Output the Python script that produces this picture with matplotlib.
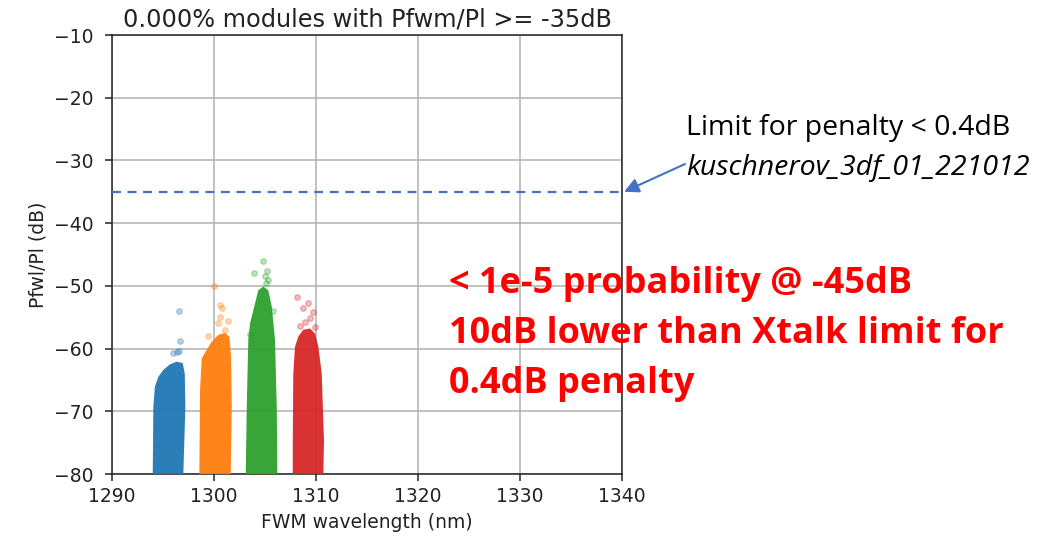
import numpy as np
import matplotlib
matplotlib.use("Agg")
import matplotlib.pyplot as plt

# FWM crosstalk per module, four pump-pair channels.
# Dense clouds are stored as their outlines (wavelength nm, Pfwm/Pl dB),
# sparse high-crosstalk samples as individual points.
blue_x = [1293.99, 1294.05, 1294.2, 1294.54, 1295.03, 1295.69, 1296.34, 1296.93, 1297.13, 1297.19, 1296.99]
blue_y = [-80.0, -69.3, -66.1, -64.5, -63.4, -62.5, -62.1, -62.3, -64.0, -69.3, -80.0]
blue_px = [1296.54, 1296.7, 1296.0, 1296.4, 1296.6]
blue_py = [-54.0, -58.8, -60.7, -60.5, -60.4]

orange_x = [1298.56, 1298.63, 1298.79, 1299.28, 1299.77, 1300.42, 1301.08, 1301.5, 1301.67, 1301.74, 1301.64]
orange_y = [-80.0, -66.6, -61.6, -60.2, -58.9, -57.8, -57.5, -58.1, -61.3, -69.3, -80.0]
orange_px = [1300.0, 1300.59, 1300.81, 1300.59, 1301.4, 1300.42, 1299.44, 1301.08]
orange_py = [-50.1, -53.0, -53.5, -54.9, -55.6, -56.0, -58.0, -57.0]

green_x = [1303.11, 1303.21, 1303.36, 1303.53, 1304.02, 1304.34, 1304.83, 1305.32, 1305.66, 1305.98, 1306.15, 1306.21]
green_y = [-80.0, -69.3, -58.6, -56.0, -52.8, -50.7, -50.1, -50.7, -53.3, -58.6, -69.3, -80.0]
green_px = [1304.77, 1303.95, 1305.17, 1305.0, 1305.26, 1305.1, 1305.8, 1303.53]
green_py = [-46.0, -47.9, -47.7, -48.5, -49.0, -49.5, -54.0, -57.7]

red_x = [1307.72, 1307.72, 1307.77, 1307.94, 1308.26, 1308.75, 1309.41, 1309.9, 1310.23, 1310.56, 1310.78, 1310.72]
red_y = [-80.0, -74.6, -64.0, -59.7, -58.1, -57.0, -56.8, -57.6, -59.7, -64.0, -74.6, -80.0]
red_px = [1308.1, 1309.25, 1308.75, 1309.67, 1309.41, 1308.92, 1309.9, 1308.43]
red_py = [-51.8, -52.8, -53.6, -54.1, -55.2, -55.7, -56.5, -56.4]

limit_db = -35
pct_above = 0.0

series = [
    (blue_x, blue_y, blue_px, blue_py, "#1f77b4"),
    (orange_x, orange_y, orange_px, orange_py, "#ff7f0e"),
    (green_x, green_y, green_px, green_py, "#2ca02c"),
    (red_x, red_y, red_px, red_py, "#d62728"),
]

fig = plt.figure(figsize=(10.58, 5.37), dpi=100)
ax = fig.add_axes([0.1059, 0.1173, 0.482, 0.8175])

for cx, cy, px, py, col in series:
    ax.fill(cx, cy, color=col, alpha=0.95, linewidth=0, zorder=3)
    ax.scatter(px, py, s=16, color=col, alpha=0.3, zorder=3)

ax.set_xlim(1290, 1340)
ax.set_ylim(-80, -10)
ax.set_xticks(np.arange(1290, 1341, 10))
ax.set_yticks(np.arange(-80, -9, 10))
ax.tick_params(labelsize=13.5, length=4.7, width=1.1, colors="#222222")
ax.tick_params(axis="y", pad=8.5)
ax.tick_params(axis="x", pad=4.5)
for sp in ax.spines.values():
    sp.set_linewidth(1.1)
    sp.set_color("#222222")
ax.grid(True, color="#b0b0b0", linewidth=1.1)
ax.set_axisbelow(True)
ax.set_xlabel("FWM wavelength (nm)", fontsize=13.5, color="#222222", labelpad=5)
ax.set_ylabel("Pfwl/Pl (dB)", fontsize=13.5, color="#222222", labelpad=5)
ax.set_title("%.3f%% modules with Pfwm/Pl >= %ddB" % (pct_above, limit_db),
             fontsize=17.3, color="#222222", pad=6)

# penalty limit line and its note
ax.axhline(limit_db, color="#4472c4", linestyle=(0, (4, 3)), linewidth=1.6, zorder=4)
ax.annotate("", xy=(1340.2, limit_db), xycoords="data",
            xytext=(685, 537 - 164), textcoords="figure pixels",
            arrowprops=dict(arrowstyle="-|>", color="#4472c4", lw=1.5,
                            mutation_scale=22, shrinkA=0, shrinkB=0),
            annotation_clip=False)
fig.text(686, 537 - 135, "Limit for penalty < 0.4dB", transform=None,
         fontsize=20.5, family="Open Sans", va="baseline", ha="left")
fig.text(686, 537 - 175, "kuschnerov_3df_01_221012", transform=None,
         fontsize=20.5, family="Open Sans", style="italic", va="baseline", ha="left")

red_lines = ["< 1e-5 probability @ -45dB",
             "10dB lower than Xtalk limit for",
             "0.4dB penalty"]
for i, line in enumerate(red_lines):
    fig.text(449, 537 - 293 - 50 * i, line, transform=None, fontsize=26,
             family="Open Sans", weight="bold", color="#ff0000",
             va="baseline", ha="left")

fig.savefig("out.png", dpi=100)
